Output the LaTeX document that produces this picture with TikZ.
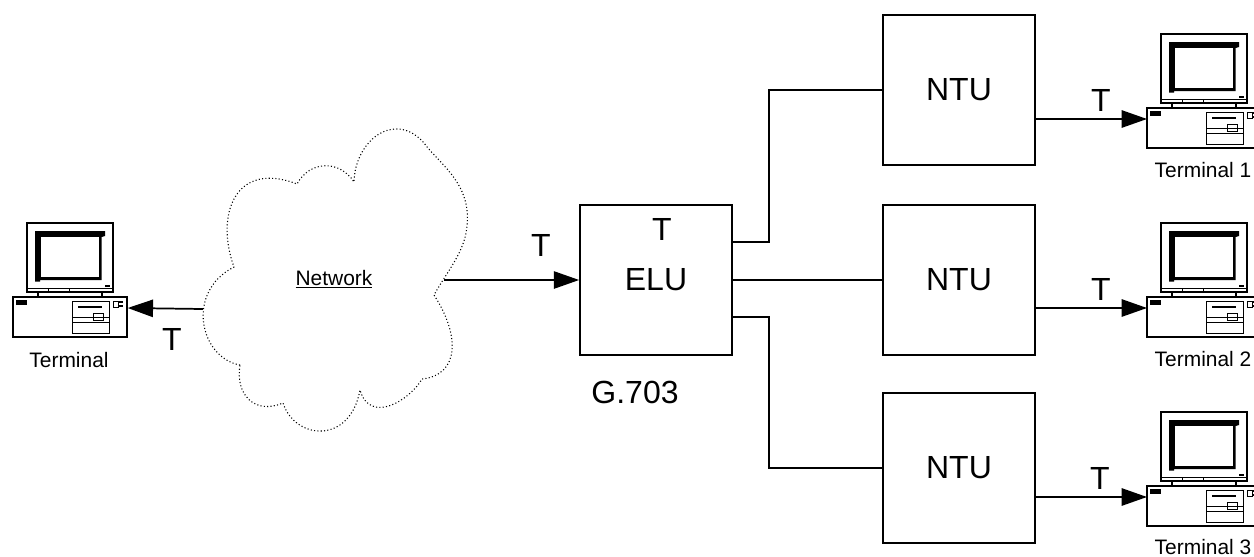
\documentclass[tikz,border=0pt]{standalone}
\usepackage{fontspec}
\setmainfont{Liberation Sans}
\usetikzlibrary{arrows.meta}
\usetikzlibrary{calc}
\tikzset{l/.style={font=\fontsize{24}{24}\selectfont}}
\tikzset{m/.style={font=\fontsize{15.7}{15.7}\selectfont}}
\tikzset{
unitbox/.style={draw, minimum width=114pt, minimum height=113pt},
signal/.style={-{Triangle[length=19pt, width=13pt]}},
fine/.style={line width=0.7pt},
pics/terminal/.style={code={
    % monitor
    \draw (14,-74) rectangle (100,-5);
    \draw[fine] (14,-9) -- (100,-9);
    \draw[fine] (35,-9) -- (35,-5);
    \draw[fine] (56,-9) -- (56,-5);
    \fill (22,-66) -- (92,-66) -- (92,-61) -- (88.7,-60) -- (88.7,-17) -- (27,-17) -- (27,-15.3) -- (22,-15.3) -- cycle;
    \fill[white] (28,-60) rectangle (86,-20);
    \fill (92,-12) rectangle (97,-10);
    \draw (25,-5) -- (25,0);
    \draw (89,-5) -- (89,0);
    % base
    \draw (0,0) rectangle (114,40);
    \fill (3,3) rectangle (14,8);
    \draw[fine] (59,4) rectangle (96,36);
    \fill (65,8.5) rectangle (89,11);
    \draw[fine] (59,20) -- (96,20);
    \draw[fine] (80,16) rectangle (90,23);
    \draw[fine] (59,25) -- (96,25);
    \draw[fine] (100,4) rectangle (105,10);
    \fill (106,4) rectangle (110,6);
    \fill (106,8) rectangle (110,10);
    \coordinate (-in) at (0,11);
    \coordinate (-out) at (114.7,11);
}}
}
\begin{document}
\begin{tikzpicture}[x=0.75pt, y=-0.75pt, line width=1.3pt]
    \path[use as bounding box, clip] (0,0) rectangle (1254,557);
    % terminals
    \pic (t0) at (13,297) {terminal};
    \pic (t1) at (1147,108) {terminal};
    \pic (t2) at (1147,297) {terminal};
    \pic (t3) at (1147,486) {terminal};
    \node [m] (t0label) at (69,360) {Terminal};
    \node [m] (t1label) at (1203,170) {Terminal 1};
    \node [m] (t2label) at (1203,359) {Terminal 2};
    \node [m, inner sep=0pt] (t3label) at (1203,547) {Terminal 3};
    % cloud
    \draw[dash pattern=on 0.8pt off 1.7pt, line width=0.8pt] (240,365)
        .. controls (200,358) and (185,292) .. (234,267)
        .. controls (215,215) and (235,160) .. (297,184)
        .. controls (310,160) and (340,160) .. (354,182)
        .. controls (355,140) and (395,110) .. (424,143)
        .. controls (440,165) and (475,185) .. (466,233)
        .. controls (462,255) and (445,275) .. (434,295)
        .. controls (460,335) and (460,375) .. (422,379)
        .. controls (410,400) and (370,425) .. (360,390)
        .. controls (350,445) and (295,440) .. (283,403)
        .. controls (255,415) and (235,395) .. (240,365) -- cycle;
    \coordinate (cloudleft) at (203,309);
    \coordinate (cloudright) at (444,280);
    \node [m] (net) at (334,279) {\underline{Network}};
    % boxes
    \node [unitbox, l] (elu) at (656,280) {ELU};
    \node [unitbox, l] (ntu1) at (959,90) {NTU};
    \node [unitbox, l] (ntu2) at (959,280) {NTU};
    \node [unitbox, l] (ntu3) at (959,468) {NTU};
    \node [l] (g703) at (635,392) {G.703};
    % links
    \coordinate (eluup) at (732,242);
    \coordinate (eludown) at (732,317);
    \coordinate (bendup) at (769,90);
    \coordinate (benddown) at (769,468);
    \draw (eluup) -| (bendup) -- (ntu1.west);
    \draw (elu.east) -- (ntu2.west);
    \draw (eludown) -| (benddown) -- (ntu3.west);
    \draw[signal] (cloudright) -- (elu.west);
    \draw[signal] (cloudleft) -- (t0-out);
    \draw[signal] (ntu1.east |- t1-in) -- (t1-in);
    \draw[signal] (ntu2.east |- t2-in) -- (t2-in);
    \draw[signal] (ntu3.east |- t3-in) -- (t3-in);
    % labels
    \node [l] (t0sig) at (172,339) {T};
    \node [l] (elusig) at (541,245) {T};
    \node [l] (eluT) at (662,229) {T};
    \node [l] (t1sig) at (1101,100) {T};
    \node [l] (t2sig) at (1101,289) {T};
    \node [l] (t3sig) at (1100,478) {T};
  \end{tikzpicture}
\end{document}
